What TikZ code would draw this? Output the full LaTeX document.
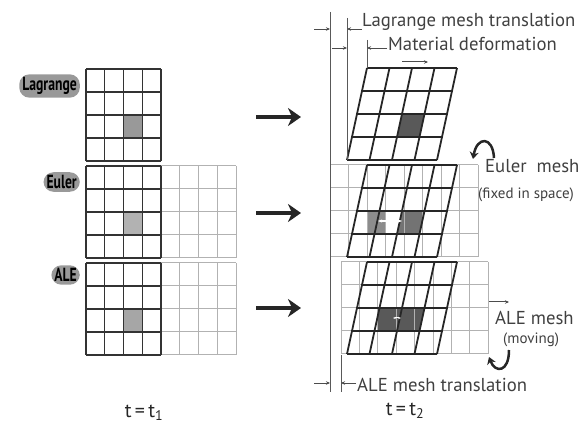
\documentclass[tikz,border=0pt]{standalone}
\usepackage{fontspec}
\setmainfont{PT Sans}
\usetikzlibrary{arrows.meta}
\tikzstyle{darkline}=[draw=black!80, line width=1.3pt]
\tikzstyle{lightline}=[draw=black!30, line width=1pt]
\tikzstyle{defline}=[draw=black!85, line width=1.8pt, line join=round]
\tikzstyle{blob}=[fill=black!40, rounded corners=10pt, inner xsep=3pt, inner ysep=3pt, anchor=east, font=\bfseries\fontsize{19}{19}\selectfont]
\tikzstyle{lbl}=[text=black!75, inner sep=0pt, anchor=west, font=\fontsize{18.7}{18.7}\selectfont]
\tikzstyle{smalllbl}=[text=black!75, inner sep=0pt, anchor=west, font=\fontsize{15}{15}\selectfont]
\tikzstyle{tlbl}=[text=black!85, inner sep=0pt, font=\fontsize{20}{20}\selectfont]
\tikzstyle{bigarrow}=[draw=black!85, line width=4pt, -{Stealth[length=13pt,width=18pt,inset=4pt]}]
\tikzstyle{dimline}=[draw=black!65, line width=1pt]
\tikzstyle{dimarrow}=[draw=black!70, line width=0.8pt, -{Stealth[length=4pt,width=3.5pt]}]
\tikzstyle{curvarrow}=[draw=black!85, line width=2.5pt, -{Stealth[length=7pt,width=9pt]}]

% 4x4 block of a fixed mesh
\newcommand{\halfmesh}[1]{%
  \foreach \i in {0,...,4} \draw[#1] (\i*18.75,0) -- (\i*18.75,92);
  \foreach \j in {0,...,4} \draw[#1] (0,\j*23) -- (75,\j*23);}
% 8x4 fixed mesh, cell width #1
\newcommand{\widemesh}[1]{%
  \foreach \i in {0,...,8} \draw[lightline] (\i*#1,0) -- (\i*#1,92);
  \foreach \j in {0,...,4} \draw[lightline] (0,\j*23) -- (8*#1,\j*23);}
% deformed material mesh
\newcommand{\lagmesh}{%
  \foreach \i in {0,...,4} \draw[defline] (17+\i*22.5,92) -- (37+\i*22.5,0);
  \foreach \j in {0,...,4} \draw[defline] (37-5*\j,23*\j) -- ++(90,0);}

\begin{document}
\begin{tikzpicture}[x=1pt, y=-1pt]
	\useasboundingbox (0,0) rectangle (582,425);

	% t = t1
	\begin{scope}[shift={(86,69)}]
		\fill[black!40] (37.5,46) rectangle (56.25,69);
		\halfmesh{darkline}
	\end{scope}
	\begin{scope}[shift={(86,166)}]
		\fill[black!30] (37.5,46) rectangle (56.25,69);
		\begin{scope}[shift={(75,0)}] \halfmesh{lightline} \end{scope}
		\halfmesh{darkline}
	\end{scope}
	\begin{scope}[shift={(86,263)}]
		\fill[black!35] (37.5,46) rectangle (56.25,69);
		\begin{scope}[shift={(75,0)}] \halfmesh{lightline} \end{scope}
		\halfmesh{darkline}
	\end{scope}

	\node[blob] (lag) at (80,86) {\scalebox{0.72}[1]{Lagrange}};
	\node[blob] (eul) at (80,182) {\scalebox{0.72}[1]{Euler}};
	\node[blob] (ale) at (80,275) {\scalebox{0.72}[1]{ALE}};
	\node[tlbl] (tone) at (144,413) {t\,=\,t\textsubscript{1}};

	% time step arrows
	\coordinate (lagfrom) at (256,117); \coordinate (lagto) at (301,117);
	\coordinate (eulfrom) at (256,213); \coordinate (eulto) at (301,213);
	\coordinate (alefrom) at (256,308); \coordinate (aleto) at (301,308);
	\draw[bigarrow] (lagfrom) -- (lagto);
	\draw[bigarrow] (eulfrom) -- (eulto);
	\draw[bigarrow] (alefrom) -- (aleto);

	% t = t2
	\begin{scope}[shift={(330,68)}]
		\fill[black!65] (72,46) -- (94.5,46) -- (89.5,69) -- (67,69) -- cycle;
		\lagmesh
	\end{scope}
	\begin{scope}[shift={(330,165)}]
		\fill[black!45] (37,46) rectangle (55.5,69);
		\fill[black!55] (72,46) -- (94.5,46) -- (89.5,69) -- (67,69) -- cycle;
		\widemesh{18.5}
		\lagmesh
		\draw[white, line width=1.2pt, {Stealth[length=4pt]}-{Stealth[length=4pt]}] (48,56) -- (72,56);
	\end{scope}
	\begin{scope}[shift={(330,262)}]
		\fill[black!65] (47.8,46) rectangle (66.2,69);
		\fill[black!65] (65,46) -- (94.5,46) -- (89.5,69) -- (65,69) -- cycle;
		\begin{scope}[shift={(11,0)}] \widemesh{18.4} \end{scope}
		\lagmesh
		\draw[white, line width=1pt, {Stealth[length=3pt]}-{Stealth[length=3pt]}] (63,56) -- (71,56);
	\end{scope}

	% translations
	\draw[dimline] (330,12) -- (330,392);
	\draw[dimline] (347,18) -- (347,160);
	\draw[dimline] (367,40) -- (367,68);
	\draw[dimline] (341,355) -- (341,392);
	\draw[dimarrow] (314,29) -- (330,29);
	\draw[dimarrow] (362,29) -- (347,29);
	\draw[dimarrow] (332,48) -- (347,48);
	\draw[dimarrow] (387,48) -- (367,48);
	\draw[dimarrow] (314,383) -- (330,383);
	\draw[dimarrow] (356,383) -- (341,383);
	\draw[dimarrow, line width=1pt] (402,62) -- (428,62);

	\node[lbl] (lmt) at (362,22) {Lagrange mesh translation};
	\node[lbl] (mdf) at (388,44) {Material deformation};
	\node[lbl] (amt) at (357,385) {ALE mesh translation};
	\node[lbl] (eml) at (485,166) {Euler\ \ mesh};
	\node[smalllbl] (efs) at (478,195) {(fixed in space)};
	\node[lbl] (aml) at (495,318) {ALE mesh};
	\node[smalllbl] (amv) at (503,340) {(moving)};
	\node[tlbl] (ttwo) at (405,411) {t\,=\,t\textsubscript{2}};

	% mesh motion marks
	\draw[curvarrow] (494,158) .. controls (493,136) and (477,136) .. (473,159);
	\draw[dimarrow, line width=1pt] (489,302) -- (509,302);
	\draw[curvarrow] (509,350) .. controls (509,373) and (495,373) .. (489,357);
\end{tikzpicture}
\end{document}
